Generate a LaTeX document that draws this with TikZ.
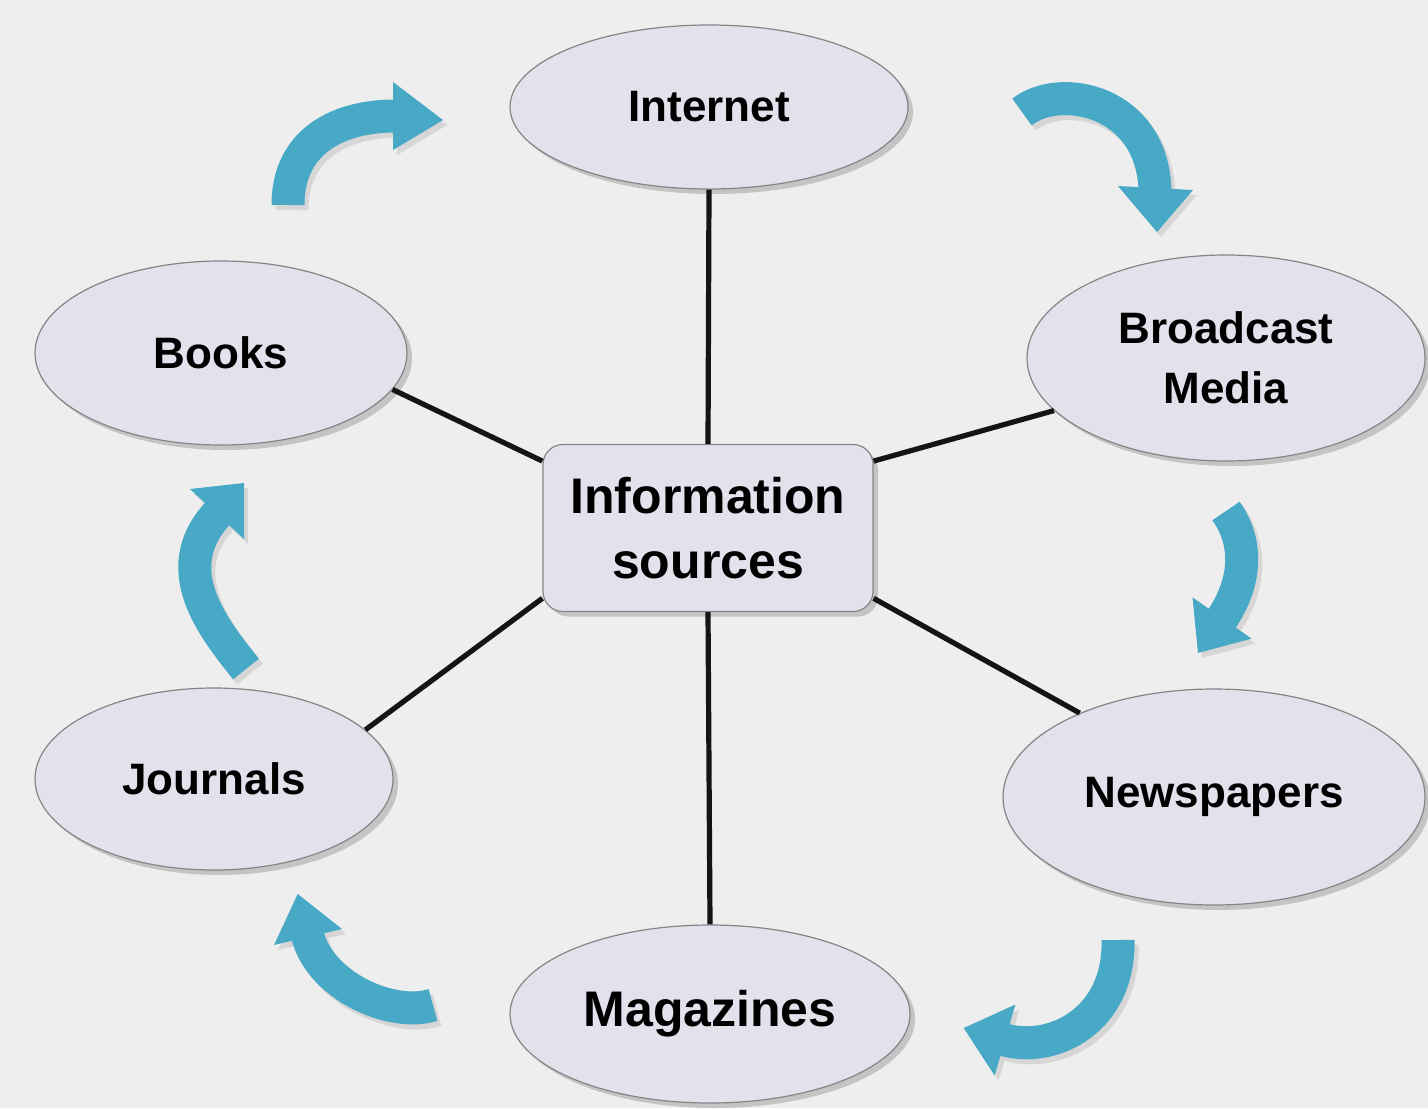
\documentclass[tikz,border=0pt]{standalone}
\usepackage{fontspec}
\setmainfont{Liberation Sans}
\usetikzlibrary{shapes.geometric,shadows}
\definecolor{bgcol}{HTML}{EEEEEE}
\definecolor{ovalfill}{HTML}{E4E0EC}
\definecolor{ovalline}{HTML}{858585}
\definecolor{arrowblue}{HTML}{48A9C6}
\definecolor{shadowgrey}{HTML}{C4C4C4}
\definecolor{arrowshade}{HTML}{D6D6D6}
\newcommand{\flowarrow}[2]{%
  \draw[shaftshadow] #1; \fill[headshadow] #2;
  \draw[shaftstyle] #1; \fill[headstyle] #2;}
\begin{document}
\begin{tikzpicture}[x=0.5pt,y=-0.5pt,
  oval/.style={ellipse, draw=ovalline, line width=0.6pt, fill=ovalfill, inner sep=0pt,
    align=center, font=\fontsize{22}{30}\selectfont\bfseries,
    drop shadow={shadow xshift=2.5pt, shadow yshift=-2.5pt, fill=shadowgrey, opacity=1}},
  bigtext/.style={font=\fontsize{25}{32.5}\selectfont\bfseries},
  centerbox/.style={rectangle, rounded corners=10pt, draw=ovalline, line width=0.6pt,
    fill=ovalfill, inner sep=0pt, align=center, minimum width=165pt, minimum height=83.5pt,
    font=\fontsize{25}{32.5}\selectfont\bfseries,
    drop shadow={shadow xshift=2.5pt, shadow yshift=-2.5pt, fill=shadowgrey, opacity=1}},
  link/.style={line width=2.6pt, draw=black!92},
  shaftstyle/.style={line width=16.5pt, draw=arrowblue, line cap=butt},
  headstyle/.style={fill=arrowblue},
  shaftshadow/.style={line width=16.5pt, draw=arrowshade, line cap=butt, shift={(4,5)}},
  headshadow/.style={fill=arrowshade, shift={(4,5)}}]
\useasboundingbox (0,0) rectangle (1428,1108);
\fill[bgcol] (0,0) rectangle (1428,1108);

% arrows
\flowarrow{(288,205) .. controls (288,140) and (340,116) .. (395,116)}
          {(393,82) -- (443,120) -- (393,150) -- cycle}
\flowarrow{(1022,112) .. controls (1060,82) and (1152,100) .. (1155,190)}
          {(1118,186) -- (1193,190) -- (1157,232) -- cycle}
\flowarrow{(1226,511) .. controls (1250,545) and (1245,585) .. (1221,620)}
          {(1192.5,597.4) -- (1251.5,638.6) -- (1198,653) -- cycle}
\flowarrow{(1118,940) .. controls (1120,1020) and (1053,1054) .. (1003,1039.5)}
          {(1015.4,1004.5) -- (994.6,1075.5) -- (963.7,1028) -- cycle}
\flowarrow{(433,1005) .. controls (392,1018) and (320,986) .. (307.5,935)}
          {(274,945) -- (342,929) -- (297.7,894) -- cycle}
\flowarrow{(246,669) .. controls (215,630) and (165,570) .. (218,513)}
          {(190,489) -- (244,539) -- (244,483) -- cycle}

% nodes
\node[centerbox] (info) at (708,528) {Information\\sources};
\node[oval, minimum width=199pt, minimum height=82pt] (internet) at (709,107) {Internet};
\node[oval, minimum width=186pt, minimum height=92pt] (books) at (221,353) {Books};
\node[oval, minimum width=199pt, minimum height=103pt] (broadcast) at (1226,358) {Broadcast\\Media};
\node[oval, minimum width=179pt, minimum height=91pt] (journals) at (214,779) {Journals};
\node[oval, minimum width=211pt, minimum height=108pt] (newspapers) at (1214,797) {Newspapers};
\node[oval, bigtext, minimum width=200pt, minimum height=89pt] (magazines) at (710,1014) {Magazines};

% connectors
\draw[link] (internet.south) -- (info.north);
\draw[link] (info.south) -- (magazines.north);
\draw[link] (books.-12) -- (info.158.6);
\draw[link] (broadcast.197.1) -- (info.22.2);
\draw[link] (journals.18.2) -- (info.203.3);
\draw[link] (newspapers.148.9) -- (info.-23.3);
\end{tikzpicture}
\end{document}
